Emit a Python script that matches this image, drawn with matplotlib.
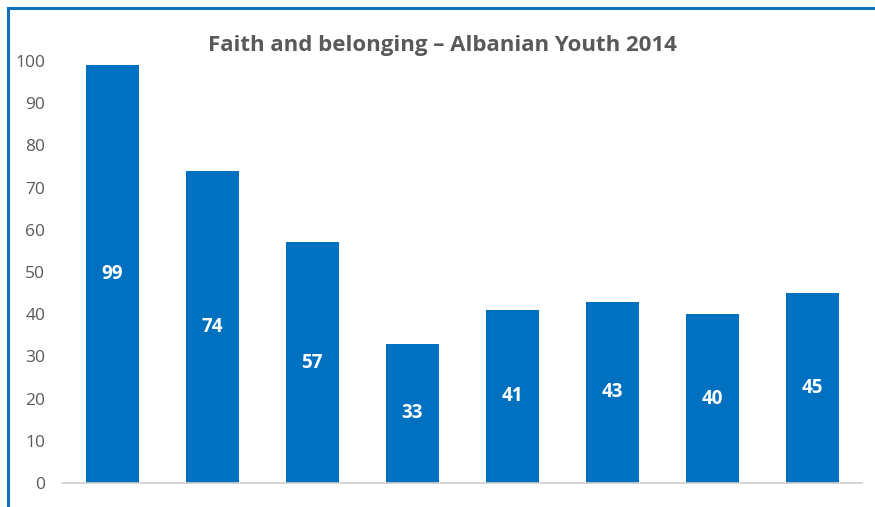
import matplotlib.pyplot as plt
from matplotlib.lines import Line2D

categories = ['1', '2', '3', '4', '5', '6', '7', '8']
values = [99, 74, 57, 33, 41, 43, 40, 45]
title = 'Faith and belonging \u2013 Albanian Youth 2014'

plt.rcParams['font.family'] = ['Open Sans', 'DejaVu Sans']

W, H = 875, 507
fig = plt.figure(figsize=(W / 100, H / 100), dpi=100)
ax = fig.add_axes([62 / W, 1 - 483 / H, 800 / W, (483 - 61) / H])

x = range(len(values))
bars = ax.bar(x, values, width=0.53, color='#0070C0')
for b, v in zip(bars, values):
    ax.text(b.get_x() + b.get_width() / 2, v / 2, str(v), ha='center', va='center',
            color='white', fontsize=13.5, fontweight='bold')

ax.set_xlim(-0.5, len(values) - 0.5)
ax.set_ylim(0, 100)
ax.set_yticks(range(0, 101, 10))
ax.set_xticks([])
for s in ['top', 'right', 'left']:
    ax.spines[s].set_visible(False)
ax.spines['bottom'].set_color('#d0d0d0')
ax.spines['bottom'].set_linewidth(1.2)
ax.tick_params(axis='y', length=0, labelsize=12.5, labelcolor='#595959', pad=12)

fig.text(442 / W, 1 - 45 / H, title, ha='center', va='center', fontsize=16,
         fontweight='bold', color='#595959')

# blue frame around the chart (left and top edges visible)
fig.add_artist(Line2D([7.5 / W, 7.5 / W], [0, 1 - 8 / H], color='#0E72BD', lw=2.2,
                      transform=fig.transFigure))
fig.add_artist(Line2D([7.5 / W, 1], [1 - 8 / H, 1 - 8 / H], color='#0E72BD', lw=2.2,
                      transform=fig.transFigure))

fig.savefig('out.png', dpi=100)
